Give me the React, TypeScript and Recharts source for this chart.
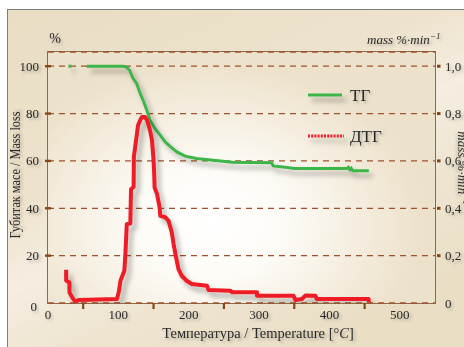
import React from "react";
import { LineChart, Line, XAxis, YAxis, CartesianGrid } from "recharts";

// ---- data ----
const tgDotTemp = [29, 33.5];
const tgDotMass = [100, 100];
const tgTemp = [55, 107, 112, 116, 121, 126, 131, 136, 140.5, 145, 152, 159.5, 166.5, 174, 183, 195, 211, 235, 262, 318, 320, 340, 350, 425, 427, 429, 431, 433, 456];
const tgMass = [100, 100, 99.5, 98.3, 94.8, 92.7, 88.5, 85, 81.4, 77.2, 73.7, 70.9, 68, 66, 63.8, 62, 61, 60.3, 59.4, 59.2, 57.9, 57.2, 56.8, 56.8, 57.3, 56.3, 56.9, 55.8, 55.8];

const dtgTemp = [25.8, 25.8, 30.5, 30.5, 34.3, 39, 43.7, 98, 100.5, 103, 108.5, 110, 112, 117, 118, 121.7, 122, 125.5, 128, 131, 133.6, 138, 140.7, 143, 145.4, 147.8, 150, 151, 151.5, 155, 158.6, 159.6, 166.7, 171.3, 176, 178.5, 182, 185.5, 190, 197, 204.5, 226, 228, 259, 262, 297, 297, 349, 351.5, 361, 366, 380, 382, 455.6, 456];
const dtgRate = [0.14, 0.095, 0.087, 0.045, 0.024, 0.005, 0.013, 0.017, 0.045, 0.094, 0.136, 0.207, 0.333, 0.336, 0.48, 0.49, 0.617, 0.695, 0.751, 0.772, 0.786, 0.786, 0.772, 0.751, 0.723, 0.688, 0.603, 0.54, 0.488, 0.46, 0.404, 0.368, 0.362, 0.347, 0.298, 0.249, 0.193, 0.143, 0.115, 0.094, 0.08, 0.073, 0.055, 0.052, 0.045, 0.045, 0.031, 0.031, 0.013, 0.017, 0.032, 0.031, 0.017, 0.017, 0.003];

const xTicks = [0, 50, 100, 150, 200, 250, 300, 350, 400, 450, 500];
const leftTicks = [0, 20, 40, 60, 80, 100];
const rightTicks = [0, 0.2, 0.4, 0.6, 0.8, 1.0];
const rightTickLabels = ["0", "0,2", "0,4", "0,6", "0,8", "1,0"];

const tgDotData = tgDotTemp.map((t, i) => ({ t, v: tgDotMass[i] }));
const tgData = tgTemp.map((t, i) => ({ t, v: tgMass[i] }));
const dtgData = dtgTemp.map((t, i) => ({ t, v: dtgRate[i] }));

const SERIF = "'Liberation Serif', 'DejaVu Serif', serif";
const BROWN = "#8b4513";
const TEXT = "#2a2a2a";

const W = 464;
const H = 347;
const M = { top: 52, right: 0, bottom: 14, left: 8 };
const LEFT_W = 40;
const RIGHT_W = 29;
const X_H = 30;
const PX = M.left + LEFT_W;
const PY = M.top;
const PW = W - M.right - RIGHT_W - PX;
const PH = H - M.bottom - X_H - PY;

const XTick = (p: any) => {
  const v = p.payload.value;
  if (v % 100 === 0) {
    return (
      <text x={p.x} y={p.y + 16} textAnchor="middle" fontFamily={SERIF} fontSize={13} fill={TEXT} className="tt">
        {v}
      </text>
    );
  }
  return <rect x={p.x - 1.1} y={p.y} width={2.2} height={6} fill={BROWN} />;
};

const LTick = (p: any) => {
  const v = p.payload.value;
  if (v === 0) {
    return (
      <text x={p.x - 11} y={p.y + 8} textAnchor="end" fontFamily={SERIF} fontSize={13} fill={TEXT} className="tt">
        0
      </text>
    );
  }
  return (
    <g>
      <rect x={p.x - 3} y={p.y - 1.2} width={6} height={2.4} fill={BROWN} />
      <text x={p.x - 9} y={p.y + 4.5} textAnchor="end" fontFamily={SERIF} fontSize={13} fill={TEXT} className="tt">
        {v}
      </text>
    </g>
  );
};

const RTick = (p: any) => {
  const v = p.payload.value;
  const idx = rightTicks.indexOf(v);
  const label = idx >= 0 ? rightTickLabels[idx] : String(v);
  return (
    <g>
      {v !== 0 && <rect x={p.x + 2} y={p.y - 1.5} width={3.5} height={3} fill={BROWN} />}
      <text x={p.x + 10} y={p.y + 4.5} textAnchor="start" fontFamily={SERIF} fontSize={13} fill={TEXT} className="tt">
        {label}
      </text>
    </g>
  );
};

export default function App() {
  return (
    <div style={{ position: "absolute", left: 0, top: 0, width: W, height: H, overflow: "hidden", background: "#fff" }}>
      <style>{`
        .recharts-line path.recharts-curve { filter: url(#lsh); }
        .tt { filter: url(#tsh); }
      `}</style>
      <svg width="0" height="0" style={{ position: "absolute" }}>
        <defs>
          <filter id="lsh" filterUnits="userSpaceOnUse" x={0} y={0} width={W} height={H}>
            <feDropShadow dx="4" dy="5" stdDeviation="2.5" floodColor="#000" floodOpacity="0.3" />
          </filter>
          <filter id="tsh" x="-30%" y="-30%" width="160%" height="160%">
            <feDropShadow dx="2" dy="2" stdDeviation="1.5" floodColor="#000" floodOpacity="0.25" />
          </filter>
        </defs>
      </svg>
      {/* outer panel */}
      <div
        style={{
          position: "absolute",
          left: 7,
          top: 9,
          width: W,
          height: H,
          borderTop: "1.5px solid #7d7d7d",
          borderLeft: "1.5px solid #7d7d7d",
          background:
            "linear-gradient(155deg, #e9ddc4 0%, #ede2cc 35%, #f5eee1 50%, #efe6d3 62%, #eadec5 85%)",
        }}
      />
      {/* plot area */}
      <div
        style={{
          position: "absolute",
          left: PX - 1,
          top: PY - 1,
          width: PW,
          height: PH,
          border: "1.5px solid #8b6b4e",
          background:
            "radial-gradient(ellipse 55% 65% at 42% 68%, #ffffff 0%, #fdfbf6 35%, #f3ebdb 75%, #ece1ca 100%)",
        }}
      />
      <div style={{ position: "absolute", left: 0, top: 0 }}>
        <LineChart width={W} height={H} margin={M}>
          <CartesianGrid
            vertical={false}
            yAxisId="l"
            stroke="#a0522d"
            strokeWidth={1.3}
            strokeDasharray="6 5"
          />
          <XAxis
            dataKey="t"
            type="number"
            domain={[0, 550]}
            ticks={xTicks}
            allowDataOverflow
            axisLine={false}
            tickLine={false}
            tickSize={0}
            tickMargin={0}
            height={X_H}
            tick={<XTick />}
            interval={0}
          />
          <YAxis
            yAxisId="l"
            type="number"
            domain={[0, 106]}
            ticks={leftTicks}
            allowDataOverflow
            axisLine={false}
            tickLine={false}
            tickSize={0}
            tickMargin={0}
            width={LEFT_W}
            tick={<LTick />}
            interval={0}
          />
          <YAxis
            yAxisId="r"
            orientation="right"
            type="number"
            domain={[0, 1.06]}
            ticks={rightTicks}
            allowDataOverflow
            axisLine={false}
            tickLine={false}
            tickSize={0}
            tickMargin={0}
            width={RIGHT_W}
            tick={<RTick />}
            interval={0}
          />
          <Line
            yAxisId="l"
            data={tgDotData}
            dataKey="v"
            type="linear"
            stroke="#3cb54a"
            strokeWidth={3}
            dot={false}
            activeDot={false}
            isAnimationActive={false}
          />
          <Line
            yAxisId="l"
            data={tgData}
            dataKey="v"
            type="linear"
            stroke="#3cb54a"
            strokeWidth={3}
            dot={false}
            activeDot={false}
            isAnimationActive={false}
          />
          <Line
            yAxisId="r"
            data={dtgData}
            dataKey="v"
            type="linear"
            stroke="#ee1c25"
            strokeWidth={4}
            strokeLinejoin="round"
            dot={false}
            activeDot={false}
            isAnimationActive={false}
          />
        </LineChart>
      </div>
      {/* overlay texts and legend */}
      <svg width={W} height={H} style={{ position: "absolute", left: 0, top: 0, pointerEvents: "none" }}>
        <text x={55} y={43} textAnchor="middle" fontFamily={SERIF} fontSize={14} fill={TEXT} className="tt">%</text>
        <text x={367} y={44} fontFamily={SERIF} fontSize={13} fontStyle="italic" fill={TEXT} className="tt">
          mass %·min<tspan dy={-5} fontSize={9}>−1</tspan>
        </text>
        <text
          x={0}
          y={0}
          transform="translate(20,175) rotate(-90)"
          textAnchor="middle"
          fontFamily={SERIF}
          fontSize={14}
          fill={TEXT}
          textLength={127}
          lengthAdjust="spacingAndGlyphs"
          className="tt"
        >
          Губитак масе / Mass loss
        </text>
        <text
          x={0}
          y={0}
          transform="translate(458,168) rotate(90)"
          textAnchor="middle"
          fontFamily={SERIF}
          fontSize={13}
          fontStyle="italic"
          fill={TEXT}
          className="tt"
        >
          mass %·min<tspan dy={-5} fontSize={9}>−1</tspan>
        </text>
        <text x={258} y={338} textAnchor="middle" fontFamily={SERIF} fontSize={14.5} fill={TEXT} className="tt">
          Температура / Temperature [°<tspan fontStyle="italic">C</tspan>]
        </text>
        {/* legend */}
        <line x1={308} y1={95} x2={342} y2={95} stroke="#3cb54a" strokeWidth={3} style={{ filter: "url(#lsh)" }} />
        <text x={350} y={101} fontFamily={SERIF} fontSize={17} fill={TEXT} className="tt">ТГ</text>
        <line x1={308} y1={136} x2={344} y2={136} stroke="#ee1c25" strokeWidth={3} strokeDasharray="2 1.2" style={{ filter: "url(#lsh)" }} />
        <text x={350} y={142} fontFamily={SERIF} fontSize={17} fill={TEXT} className="tt">ДТГ</text>
      </svg>
    </div>
  );
}
